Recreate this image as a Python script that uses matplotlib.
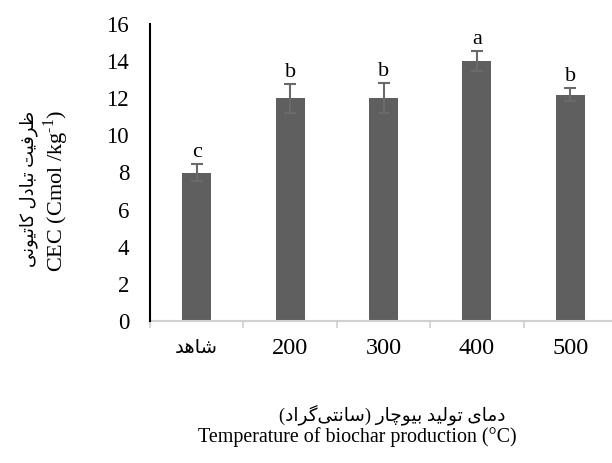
import matplotlib
matplotlib.use("Agg")
import matplotlib.pyplot as plt

# داده‌ها
categories = ["شاهد", "200", "300", "400", "500"]
cec_values = [8.0, 12.0, 12.0, 14.0, 12.2]
cec_errors = [0.45, 0.78, 0.8, 0.55, 0.35]
letters = ["c", "b", "b", "a", "b"]

ylabel_fa = "ظرفیت تبادل کاتیونی"
ylabel_en = "CEC (Cmol /kg$^{\\text{-1}}$)"
xlabel_fa = "دمای تولید بیوچار (سانتی\u200cگراد)"
xlabel_en = "Temperature of biochar production (°C)"

# matplotlib does no Arabic shaping, so pick presentation forms by hand
# (isolated, final, initial, medial); None = letter does not join forward
FORMS = {
    "ا": ("\uFE8D", "\uFE8E", None, None),
    "ب": ("\uFE8F", "\uFE90", "\uFE91", "\uFE92"),
    "ت": ("\uFE95", "\uFE96", "\uFE97", "\uFE98"),
    "د": ("\uFEA9", "\uFEAA", None, None),
    "ر": ("\uFEAD", "\uFEAE", None, None),
    "س": ("\uFEB1", "\uFEB2", "\uFEB3", "\uFEB4"),
    "ش": ("\uFEB5", "\uFEB6", "\uFEB7", "\uFEB8"),
    "ظ": ("\uFEC5", "\uFEC6", "\uFEC7", "\uFEC8"),
    "ف": ("\uFED1", "\uFED2", "\uFED3", "\uFED4"),
    "ل": ("\uFEDD", "\uFEDE", "\uFEDF", "\uFEE0"),
    "م": ("\uFEE1", "\uFEE2", "\uFEE3", "\uFEE4"),
    "ن": ("\uFEE5", "\uFEE6", "\uFEE7", "\uFEE8"),
    "ه": ("\uFEE9", "\uFEEA", "\uFEEB", "\uFEEC"),
    "و": ("\uFEED", "\uFEEE", None, None),
    "ی": ("\uFBFC", "\uFBFD", "\uFBFE", "\uFBFF"),
    "ک": ("\uFB8E", "\uFB8F", "\uFB90", "\uFB91"),
    "چ": ("\uFB7A", "\uFB7B", "\uFB7C", "\uFB7D"),
    "گ": ("\uFB92", "\uFB93", "\uFB94", "\uFB95"),
}


def fa(text):
    if not any(c in FORMS for c in text):
        return text
    out = []
    for i, c in enumerate(text):
        if c not in FORMS:
            if c != "\u200c":
                out.append(c)
            continue
        prev = text[i - 1] if i > 0 else ""
        nxt = text[i + 1] if i + 1 < len(text) else ""
        jp = prev in FORMS and FORMS[prev][2] is not None
        jn = nxt in FORMS and FORMS[c][2] is not None
        iso, fin, ini, med = FORMS[c]
        out.append(med if jp and jn else fin if jp else ini if jn else iso)
    vis = "".join(out)[::-1]
    return vis.translate(str.maketrans("()", ")("))


plt.rcParams["font.family"] = ["Liberation Serif", "DejaVu Sans"]
plt.rcParams["mathtext.fontset"] = "custom"
plt.rcParams["mathtext.rm"] = "Liberation Serif"

fig = plt.figure(figsize=(6.12, 4.63), dpi=100)
ax = fig.add_axes([150 / 612, 1 - 321 / 463, 467 / 612, 297 / 463])

x = list(range(len(categories)))
ax.bar(x, cec_values, width=0.31, color="#5f5f5f", zorder=2)
ax.errorbar(x, cec_values, yerr=cec_errors, fmt="none", ecolor="#6a6a6a",
            elinewidth=1.5, capsize=4.5, capthick=1.5, zorder=3)
for xi, v, e, t in zip(x, cec_values, cec_errors, letters):
    ax.annotate(t, (xi, v + e), xytext=(0, 1.5), textcoords="offset points",
                ha="center", va="bottom", fontsize=16)

ax.set_xlim(-0.5, len(categories) - 0.5)
ax.set_ylim(0, 16)
ax.set_yticks(range(0, 17, 2))
ax.set_xticks(x)
ax.set_xticklabels([fa(c) for c in categories])
ax.set_xticks([i - 0.5 for i in x], minor=True)
ax.tick_params(axis="y", length=0, pad=15, labelsize=16.5)
ax.tick_params(axis="x", which="major", length=0, pad=19.5, labelsize=17.5)
ax.tick_params(axis="x", which="minor", length=5, width=1.2, color="#d0d0d0")
plt.setp(ax.get_xticklabels(), va="center")
ax.get_xticklabels()[0].set_fontsize(14)

for s in ["top", "right"]:
    ax.spines[s].set_visible(False)
ax.spines["left"].set_linewidth(1.5)
ax.spines["left"].set_color("black")
ax.spines["left"].set_zorder(4)
ax.spines["bottom"].set_color("#d0d0d0")
ax.spines["bottom"].set_linewidth(1.5)

fig.text(29 / 612, 1 - 189 / 463, fa(ylabel_fa), rotation=90, ha="center",
         va="center", fontsize=13)
fig.text(56 / 612, 1 - 191 / 463, ylabel_en, rotation=90, ha="center",
         va="center", fontsize=16)
fig.text(392 / 612, 1 - 415 / 463, fa(xlabel_fa), ha="center", va="center",
         fontsize=13.3)
fig.text(357 / 612, 1 - 437 / 463, xlabel_en, ha="center", va="center",
         fontsize=14.4)

fig.savefig("out.png", dpi=100)
